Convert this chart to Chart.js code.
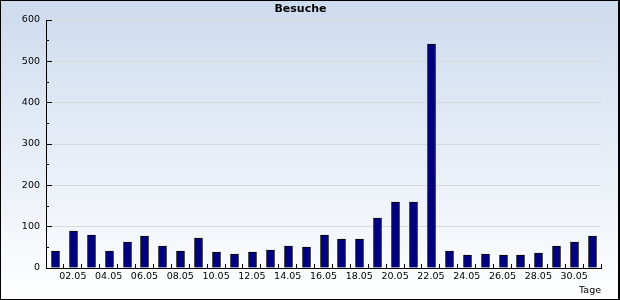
<!DOCTYPE html>
<html>
<head>
<meta charset="utf-8">
<script src="https://cdn.jsdelivr.net/npm/chart.js@4"></script>
<style>
  body { margin: 0; background: #fff; }
  canvas { display: block; }
</style>
</head>
<body>
<canvas id="visits-chart" width="620" height="300"></canvas>
<script>
const days = ["01.05", "02.05", "03.05", "04.05", "05.05", "06.05", "07.05", "08.05",
  "09.05", "10.05", "11.05", "12.05", "13.05", "14.05", "15.05", "16.05", "17.05",
  "18.05", "19.05", "20.05", "21.05", "22.05", "23.05", "24.05", "25.05", "26.05",
  "27.05", "28.05", "29.05", "30.05", "31.05"];
const visits = [42, 90, 81, 42, 64, 78, 54, 42, 73, 39, 35, 39, 44, 54, 52, 81,
  71, 71, 122, 160, 160, 543, 42, 32, 35, 32, 32, 37, 54, 64, 78];
const yMin = 0;
const yMax = 600;

const font = { family: "DejaVu Sans", size: 9.5 };

// gradient background and frame
const framePlugin = {
  id: "frame",
  beforeDraw(chart) {
    const { ctx, width, height } = chart;
    const g = ctx.createLinearGradient(0, 0, 0, height);
    g.addColorStop(0, "#cddbee");
    g.addColorStop(1, "#ffffff");
    ctx.save();
    ctx.fillStyle = g;
    ctx.fillRect(0, 0, width, height);
    ctx.restore();
  },
  afterDraw(chart) {
    const { ctx, width, height } = chart;
    ctx.save();
    ctx.strokeStyle = "#000";
    ctx.lineWidth = 1;
    ctx.strokeRect(0.5, 0.5, width - 1, height - 1);
    ctx.beginPath();
    ctx.moveTo(width - 1.5, 1);
    ctx.lineTo(width - 1.5, height - 1);
    ctx.stroke();
    ctx.restore();
  },
};

// snap bars to whole pixels so the borders stay crisp
const snapPlugin = {
  id: "snap",
  beforeDatasetsDraw(chart) {
    chart.getDatasetMeta(0).data.forEach((bar) => {
      bar.x = Math.round(bar.x) + 0.5;
      bar.y = Math.round(bar.y);
    });
  },
};

const ctx = document.getElementById("visits-chart").getContext("2d");
new Chart(ctx, {
  type: "bar",
  data: {
    labels: days,
    datasets: [
      {
        label: "Besuche",
        data: visits,
        backgroundColor: "#000080",
        borderColor: "#000000",
        borderWidth: 1,
        borderSkipped: "bottom",
        barThickness: 8,
      },
    ],
  },
  options: {
    responsive: false,
    animation: false,
    layout: { padding: { top: 0, right: 19, bottom: 0, left: 0 } },
    plugins: {
      legend: { display: false },
      tooltip: { enabled: false },
      title: {
        display: true,
        text: "Besuche",
        color: "#000",
        font: { family: "DejaVu Sans", size: 11, weight: "bold", lineHeight: "12px" },
        padding: { top: 3, bottom: 5 },
      },
    },
    scales: {
      x: {
        offset: true,
        grid: {
          offset: true,
          drawOnChartArea: false,
          tickLength: -4,
          tickColor: "#000",
        },
        border: { color: "#000", width: 1 },
        ticks: {
          autoSkip: false,
          maxRotation: 0,
          padding: 7,
          color: "#000",
          font: font,
          callback: function (val, i) {
            return i % 2 === 1 ? this.getLabelForValue(val) : "";
          },
        },
        title: {
          display: true,
          text: "Tage",
          align: "end",
          color: "#000",
          font: font,
          padding: { top: 0, bottom: 4 },
        },
        afterFit: (s) => { s.height = 32; },
      },
      y: {
        weight: 1,
        min: yMin,
        max: yMax,
        grid: {
          color: (c) => (c.tick && c.tick.value === 0 ? "rgba(0,0,0,0)" : "#d8d8d8"),
          tickLength: -6,
          tickColor: "#000",
        },
        border: { color: "#000", width: 1 },
        ticks: { stepSize: 100, padding: 12, color: "#000", font: font },
        afterFit: (s) => { s.width = 46; },
      },
      yMinor: {
        type: "linear",
        position: "left",
        weight: 0,
        min: yMin,
        max: yMax,
        grid: {
          drawOnChartArea: false,
          tickLength: -3,
          tickColor: "#000",
        },
        border: { display: false },
        ticks: { stepSize: 50, display: false },
        afterFit: (s) => { s.width = 0; },
      },
    },
  },
  plugins: [framePlugin, snapPlugin],
});
</script>
</body>
</html>
